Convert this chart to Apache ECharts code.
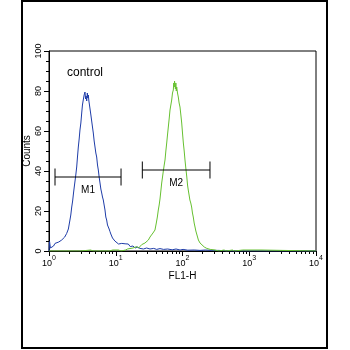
<!DOCTYPE html>
<html>
<head>
<meta charset="utf-8">
<script src="https://cdn.jsdelivr.net/npm/echarts@6/dist/echarts.min.js"></script>
<style>
html,body{margin:0;padding:0;background:#fff;}
#c{width:350px;height:350px;}
</style>
</head>
<body>
<div id="c"></div>
<script>
// FL1-H channel values (log scale) and counts
const blueX = [1.00,1.02,1.05,1.10,1.17,1.23,1.30,1.40,1.48,1.55,1.63,1.72,1.84,1.95,2.06,2.12,2.19,2.26,2.33,2.39,2.45,2.52,2.60,2.67,2.75,2.83,2.91,3.00,3.09,3.17,3.26,3.36,3.46,3.53,3.60,3.67,3.75,3.82,3.88,3.96,4.04,4.11,4.24,4.36,4.48,4.61,4.75,4.89,5.03,5.18,5.33,5.48,5.64,5.81,5.98,6.16,6.33,6.51,6.70,6.90,7.10,7.31,7.52,7.73,7.96,8.20,8.44,8.69,8.94,9.19,9.70,10.3,11.0,11.6,12.3,13.0,13.8,14.6,15.4,16.5,18.1,19.5,21,23.1,26,29,32.6,37,41,46,52,60,70,80,92,102,120,150,183,220,270,350,515,10000];
const blueY = [0,4.7,1.5,1.0,2.5,3.8,2.8,4.5,4.0,5.5,5.0,7.0,8.8,11,15.5,18,22,25,29,32,33,38,42,47,52,56,60.5,64,69,73,75.5,78,79.5,76,77.5,75,79,76.5,78,75,73,72,68,67,62,59,55,52,49,47,43,40.5,37,34,31,29,27,25.5,23,20.5,17,15.5,13,12,11,9.7,8.5,8,6.5,5.5,5,4.7,3.5,4.2,3.8,2.8,3.6,2.6,3.5,2.2,2.5,1.5,2.0,1.3,1.0,1.5,1.0,1.3,0.8,1.2,0.8,1.0,0.6,1.0,0.5,0.8,0.4,0.5,0.3,0.5,0.3,0.3,0,0];
const greenX = [1,3,4.2,4.6,8,9,9.6,11,12,14,15,16,18.1,19,20.5,22,23.1,24.5,25.6,27.4,29,30.8,32.6,34.5,36.1,37.5,38.7,40.5,42,43.4,44.7,46.0,47.4,48.8,50.2,51.6,53.2,54.7,56.3,58.0,59.6,61.3,63.1,65.0,66.9,68.9,70.8,72.8,74,75,76.0,77.2,78.3,79.5,80.7,81.9,84.2,86.5,89,91.7,94.5,97.3,100,103,106,109,112.5,116,119,122,125.5,129,133,137,141,145,149.5,154,158.5,163,168,173,183,194,212,231,260,307,350,420,450,560,600,800,850,1500,1600,10000];
const greenY = [0,0,0.5,0,0,0.5,0,0.5,0,0.5,1,0.5,1.5,1,2.2,1.5,2.5,3.2,2.8,4,3.5,5.5,7,8,9,8.5,10.5,14,17,20.5,23,26,30,34,37,40,43,45.5,50,54,58,62,66,70.5,73,75.5,79,80.5,84,82,85,84.7,81,84,80,82,79,77,74,72,68,64,59,54,50,45.5,41,37,33,30.5,28,25.5,24,22,19,17,14,12,10,9,7,5.5,4,3,2,1.3,0.8,0.5,0,0.5,0,0.5,0,0.5,0,0.5,0,0];
// Marker gates: [low, high, level]
const gateRanges = [[1.23, 12, 37], [25, 258, 40.5]];
const gateLabels = ['M1', 'M2'];
const yTicks = [0, 20, 40, 60, 80, 100];
const xDecades = [1, 10, 100, 1000, 10000];
const xMinor = [];
for (let d = 1; d < 10000; d *= 10) for (let k = 2; k <= 9; k++) xMinor.push(d * k);

const FONT = '"Liberation Sans", Arial, sans-serif';
const pairs = (xs, ys) => xs.map((x, i) => [x, ys[i]]);

const chart = echarts.init(document.getElementById('c'), null, {renderer: 'canvas'});
chart.setOption({
  animation: false,
  backgroundColor: '#fff',
  textStyle: {fontFamily: FONT},
  graphic: [{
    type: 'rect', shape: {x: 22, y: 1, width: 305, height: 347},
    style: {fill: 'none', stroke: '#000', lineWidth: 2}, silent: true
  }],
  title: {
    text: 'control', left: 62, top: 62,
    textStyle: {fontSize: 12, fontWeight: 'normal', color: '#000', fontFamily: FONT}
  },
  grid: {left: 49, top: 51, width: 267, height: 200, show: true, borderColor: '#000', borderWidth: 1, backgroundColor: 'transparent'},
  xAxis: [{
    type: 'log', logBase: 10, min: 1, max: 10000,
    name: 'FL1-H', nameLocation: 'middle', nameGap: 20, nameMoveOverlap: false,
    nameTextStyle: {fontSize: 10, color: '#000', fontFamily: FONT},
    axisLine: {lineStyle: {color: '#000', width: 1}},
    axisTick: {show: true, length: 5, lineStyle: {color: '#000'}},
    splitLine: {show: false},
    axisLabel: {
      color: '#000', margin: 4,
      formatter: v => '{b|10}{s|' + Math.round(Math.log10(v)) + '}',
      rich: {
        b: {fontSize: 9, color: '#000', verticalAlign: 'bottom', fontFamily: FONT},
        s: {fontSize: 7, color: '#000', verticalAlign: 'bottom', padding: [0, 0, 6, 0], fontFamily: FONT}
      }
    }
  }, {
    type: 'log', logBase: 10, min: 1, max: 10000, position: 'bottom',
    axisLine: {show: false},
    axisTick: {show: true, length: 3, customValues: xMinor, lineStyle: {color: '#000'}},
    axisLabel: {show: false},
    splitLine: {show: false}
  }],
  yAxis: {
    type: 'value', min: 0, max: 100, interval: 20,
    name: 'Counts', nameLocation: 'middle', nameGap: 17, nameMoveOverlap: false,
    nameTextStyle: {fontSize: 10, color: '#000', fontFamily: FONT},
    axisLine: {show: true, lineStyle: {color: '#000', width: 1}},
    axisTick: {show: true, length: 5, lineStyle: {color: '#000'}},
    minorTick: {show: true, splitNumber: 4, length: 3, lineStyle: {color: '#000'}},
    splitLine: {show: false},
    axisLabel: {color: '#000', fontSize: 9, rotate: 90, margin: 6, fontFamily: FONT,
      formatter: v => yTicks.includes(v) ? String(v) : ''}
  },
  series: [{
    type: 'line', data: pairs(blueX, blueY), showSymbol: false, smooth: false,
    lineStyle: {color: '#1e3ca8', width: 1}, itemStyle: {color: '#1e3ca8'}, z: 3
  }, {
    type: 'line', data: pairs(greenX, greenY), showSymbol: false, smooth: false,
    lineStyle: {color: '#66c030', width: 1}, itemStyle: {color: '#66c030'}, z: 4
  }, {
    type: 'custom', data: gateRanges, encode: {x: [0, 1], y: 2}, z: 5,
    renderItem: (params, api) => {
      const lo = api.coord([api.value(0), api.value(2)]);
      const hi = api.coord([api.value(1), api.value(2)]);
      const cap = 8.5;
      const ls = {stroke: '#000', lineWidth: 1};
      const mid = api.coord([Math.sqrt(api.value(0) * api.value(1)), api.value(2)]);
      return {type: 'group', children: [
        {type: 'line', shape: {x1: lo[0], y1: lo[1], x2: hi[0], y2: hi[1]}, style: ls},
        {type: 'line', shape: {x1: lo[0], y1: lo[1] - cap, x2: lo[0], y2: lo[1] + cap}, style: ls},
        {type: 'line', shape: {x1: hi[0], y1: hi[1] - cap, x2: hi[0], y2: hi[1] + cap}, style: ls},
        {type: 'text', style: {text: gateLabels[params.dataIndex], x: mid[0], y: mid[1] + 13,
          align: 'center', verticalAlign: 'middle', fontSize: 10, fill: '#000', fontFamily: FONT}}
      ]};
    }
  }]
});
</script>
</body>
</html>
